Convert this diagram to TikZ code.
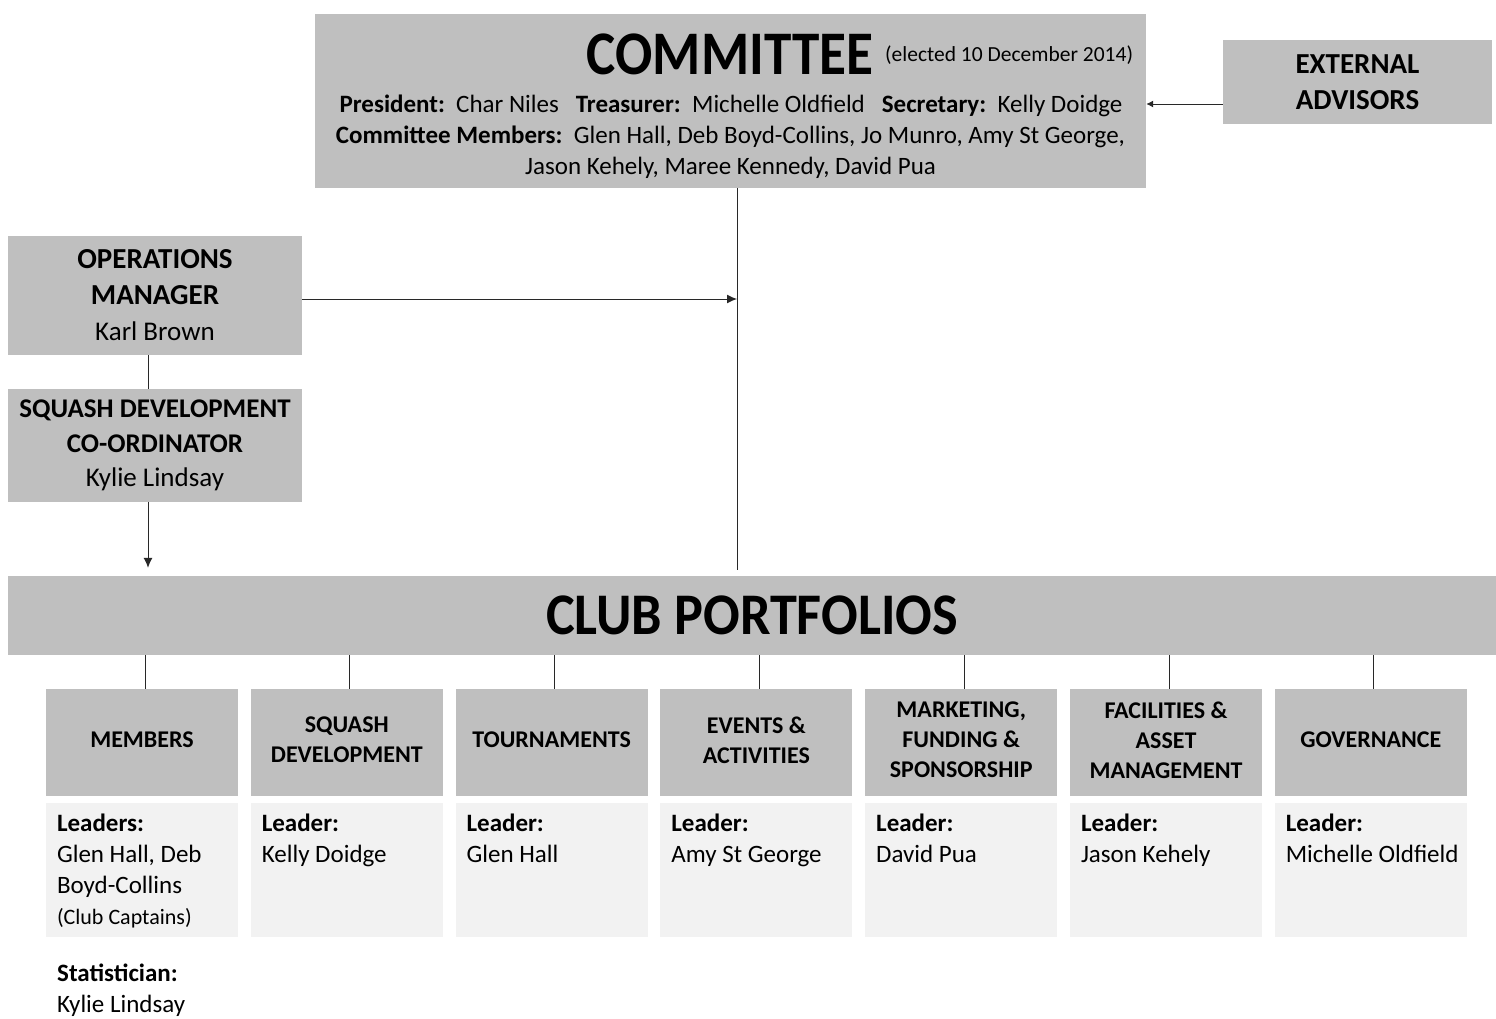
\documentclass[tikz,border=0pt]{standalone}
\usepackage{fontspec}
\setmainfont{Carlito}
\newfontfamily\condfont[FakeStretch=0.89]{Carlito}
\newfontfamily\clubfont[FakeStretch=0.92]{Carlito}
\usetikzlibrary{arrows.meta}
\definecolor{boxgray}{RGB}{191,191,191}
\definecolor{leadgray}{RGB}{242,242,242}
\definecolor{linegray}{RGB}{40,40,40}
\newcommand{\bodyfont}{\fontsize{25}{31}\selectfont}
\newcommand{\headfont}{\fontsize{24}{30}\selectfont\bfseries}
\tikzset{
	box/.style = {fill=boxgray, inner sep=0pt, align=center},
	leadbox/.style = {fill=leadgray, inner sep=0pt, minimum width=192pt, minimum height=134pt},
	headbox/.style = {box, minimum width=192pt, minimum height=107pt},
	headtext/.style = {inner sep=0pt, align=center, font=\headfont},
	leadtext/.style = {inner sep=0pt, anchor=north west, align=left, font=\bodyfont},
	conn/.style = {draw=linegray, line width=1pt},
	arr/.style = {conn, -{Latex[length=10pt,width=9pt]}}
}
\begin{document}
\begin{tikzpicture}[x=1pt, y={(0pt,-1pt)}]
	\useasboundingbox (0,0) rectangle (1496,1018);

	% committee
	\node[box, minimum width=831pt, minimum height=174pt] (committee) at (730.5,101) {};
	\node[anchor=base, inner sep=0pt, font=\condfont\fontsize{62}{62}\selectfont\bfseries] (comtitle) at (730,74) {COMMITTEE};
	\node[anchor=base west, inner sep=0pt, font=\fontsize{21.5}{21.5}\selectfont] (elected) at (885,61) {(elected 10 December 2014)};
	\node[anchor=base, inner sep=0pt, font=\bodyfont] (officers) at (731,112) {\textbf{President:}\ \ Char Niles\ \ \ \textbf{Treasurer:}\ \ Michelle Oldfield\ \ \ \textbf{Secretary:}\ \ Kelly Doidge};
	\node[anchor=base, inner sep=0pt, font=\bodyfont] (members1) at (730.5,143) {\textbf{Committee Members:}\ \ Glen Hall, Deb Boyd-Collins, Jo Munro, Amy St George,};
	\node[anchor=base, inner sep=0pt, font=\bodyfont] (members2) at (730.5,174) {Jason Kehely, Maree Kennedy, David Pua};

	\node[box, minimum width=269pt, minimum height=84pt, font=\fontsize{29}{36}\selectfont\bfseries] (ext) at (1357.5,82) {EXTERNAL\\ADVISORS};

	% staff
	\node[box, minimum width=294pt, minimum height=119pt, font=\fontsize{27}{36}\selectfont] (ops) at (155,295.5) {{\fontsize{29}{36}\selectfont\textbf{OPERATIONS}}\\{\fontsize{29}{36}\selectfont\textbf{MANAGER}}\\Karl Brown};
	\node[box, minimum width=294pt, minimum height=113pt, font=\fontsize{27}{34.5}\selectfont] (sdc) at (155,445.5) {\textbf{SQUASH DEVELOPMENT}\\\textbf{CO-ORDINATOR}\\Kylie Lindsay};

	% portfolios
	\node[box, minimum width=1488pt, minimum height=79pt, font=\clubfont\fontsize{59}{59}\selectfont\bfseries] (club) at (752,615.5) {CLUB PORTFOLIOS};

	\foreach \i/\head/\lead in {
		0/MEMBERS/{\textbf{Leaders:}\\Glen Hall, Deb\\Boyd-Collins\\{\fontsize{22}{31}\selectfont(Club Captains)}},
		1/{SQUASH\\DEVELOPMENT}/{\textbf{Leader:}\\Kelly Doidge},
		2/TOURNAMENTS/{\textbf{Leader:}\\Glen Hall},
		3/{EVENTS \&\\ACTIVITIES}/{\textbf{Leader:}\\Amy St George},
		4/{MARKETING,\\FUNDING \&\\SPONSORSHIP}/{\textbf{Leader:}\\David Pua},
		5/{FACILITIES \&\\ASSET\\MANAGEMENT}/{\textbf{Leader:}\\Jason Kehely},
		6/GOVERNANCE/{\textbf{Leader:}\\Michelle Oldfield}} {
		\node[headbox] (head\i) at (142+204.8*\i,742.5) {};
		\node[headtext] (headtxt\i) at ([yshift=2.5pt]head\i.center) {\head};
		\node[leadbox] (lead\i) at (142+204.8*\i,870) {};
		\node[leadtext] (leadtxt\i) at ([xshift=11pt,yshift=-11pt]lead\i.north west) {\lead};
		\draw[conn] ([xshift=3pt]head\i.north) -- ([xshift=3pt]head\i.north |- club.south);
	}

	\node[leadtext] (stat) at (57,964) {\textbf{Statistician:}\\Kylie Lindsay};

	% connectors
	\coordinate (cjoin) at (737,570);
	\draw[conn] (committee.south -| cjoin) -- (cjoin);
	\draw[arr] ([yshift=-3.5pt]ops.east) -- ([yshift=-3.5pt]ops.east -| cjoin);
	\draw[arr, -{Latex[length=7pt,width=7pt]}] ([yshift=-22pt]ext.west) -- ([yshift=-22pt]ext.west -| committee.east);
	\draw[conn] ([xshift=-7pt]ops.south) -- ([xshift=-7pt]sdc.north);
	\draw[arr] ([xshift=-7pt]sdc.south) -- ([yshift=8pt]club.north -| 148,0);
\end{tikzpicture}
\end{document}
